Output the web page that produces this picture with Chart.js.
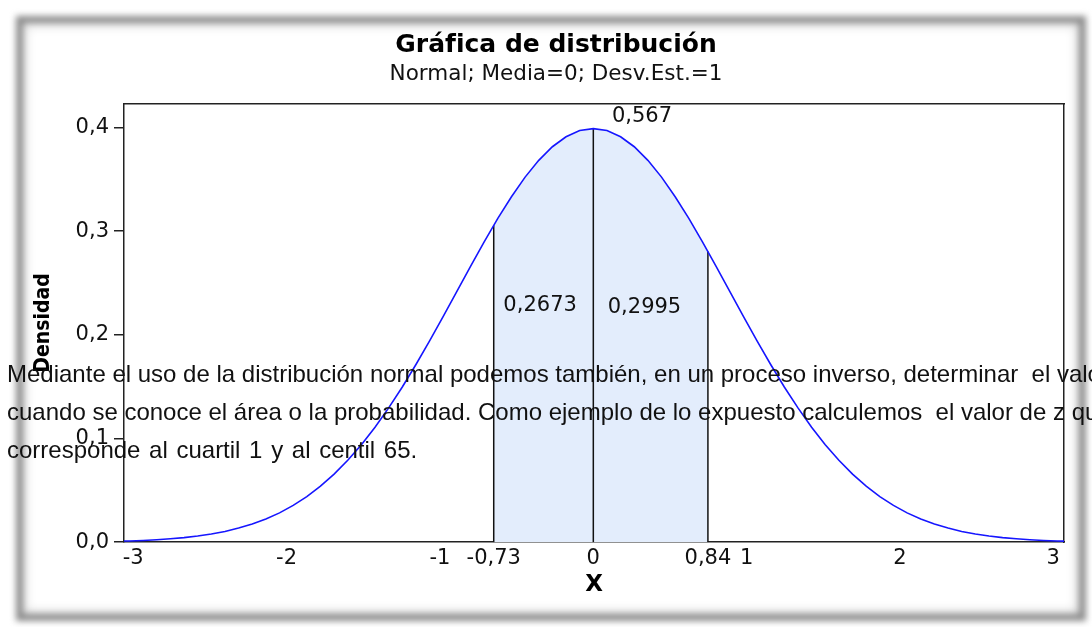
<!DOCTYPE html>
<html lang="es">
<head>
<meta charset="utf-8">
<title>Gráfica de distribución</title>
<script src="https://cdn.jsdelivr.net/npm/chart.js@4.4.1/dist/chart.umd.min.js"></script>
<style>
    html, body { margin: 0; padding: 0; background: #fff; }
    body { position: relative; width: 1092px; height: 627px; overflow: hidden; }
    .marco {
        position: absolute; left: 16px; top: 16px; width: 1056px; height: 591px;
        border: 7px solid #8d8d8d; filter: blur(3px);
        box-shadow: inset 0 0 8px 2px rgba(0, 0, 0, 0.2);
    }
    #grafica { position: absolute; left: 0; top: 0; }
    .texto {
        position: absolute; left: 7px; z-index: 2;
        font-family: 'Liberation Sans', Arial, sans-serif; font-size: 24px; line-height: 24px;
        color: #111; white-space: pre;
    }
</style>
</head>
<body>
<div class="marco"></div>
<canvas id="grafica" width="1092" height="627"></canvas>
<div class="texto" style="top:362px">Mediante el uso de la distribución normal podemos también, en un proceso inverso, determinar  el valor de z</div>
<div class="texto" style="top:400px">cuando se conoce el área o la probabilidad. Como ejemplo de lo expuesto calculemos  el valor de z que</div>
<div class="texto" style="top:438px; word-spacing:2px">corresponde al cuartil 1 y al centil 65.</div>

<script>
// Curva normal estándar (valores de z y densidad)
const zValues = [-3.44, -3.4, -3.3, -3.2, -3.1, -3.0, -2.9, -2.8, -2.7, -2.6, -2.5, -2.4, -2.3, -2.2, -2.1, -2.0,
    -1.9, -1.8, -1.7, -1.6, -1.5, -1.4, -1.3, -1.2, -1.1, -1.0, -0.9, -0.8, -0.7, -0.6, -0.5, -0.4, -0.3, -0.2, -0.1,
    0.0, 0.1, 0.2, 0.3, 0.4, 0.5, 0.6, 0.7, 0.8, 0.9, 1.0, 1.1, 1.2, 1.3, 1.4, 1.5, 1.6, 1.7, 1.8, 1.9,
    2.0, 2.1, 2.2, 2.3, 2.4, 2.5, 2.6, 2.7, 2.8, 2.9, 3.0, 3.1, 3.2, 3.3, 3.4, 3.45];
const density = [0.0011, 0.0012, 0.0017, 0.0024, 0.0033, 0.0044, 0.0060, 0.0079, 0.0104, 0.0136, 0.0175, 0.0224, 0.0283, 0.0355, 0.0440, 0.0540,
    0.0656, 0.0790, 0.0940, 0.1109, 0.1295, 0.1497, 0.1714, 0.1942, 0.2179, 0.2420, 0.2661, 0.2897, 0.3123, 0.3332, 0.3521, 0.3683, 0.3814, 0.3910, 0.3970,
    0.3989, 0.3970, 0.3910, 0.3814, 0.3683, 0.3521, 0.3332, 0.3123, 0.2897, 0.2661, 0.2420, 0.2179, 0.1942, 0.1714, 0.1497, 0.1295, 0.1109, 0.0940, 0.0790, 0.0656,
    0.0540, 0.0440, 0.0355, 0.0283, 0.0224, 0.0175, 0.0136, 0.0104, 0.0079, 0.0060, 0.0044, 0.0033, 0.0024, 0.0017, 0.0012, 0.0010];

// Límites del área sombreada y altura de la curva en cada uno
const cutPoints = [-0.73, 0, 0.84];
const cutHeights = [0.3056, 0.3989, 0.2803];

// Áreas parciales y total
const areaValues = [0.2673, 0.2995];
const areaTotal = 0.567;

// Marcas de los ejes
const xTicks = [-3, -2, -1, 0, 1, 2, 3];
const zTicks = [-0.73, 0.84];
const yTicks = [0, 0.1, 0.2, 0.3, 0.4];

function coma(v) {
    return String(v).replace('.', ',');
}

const curve = zValues.map((z, i) => ({x: z, y: density[i]}));

// Polígono del área entre el primer y el último límite
const lo = cutPoints[0], hi = cutPoints[cutPoints.length - 1];
const shaded = [{x: lo, y: cutHeights[0]}]
    .concat(curve.filter(p => p.x > lo && p.x < hi))
    .concat([{x: hi, y: cutHeights[cutHeights.length - 1]}]);

const cutLines = cutPoints.map((c, i) => ({
    data: [{x: c, y: 0}, {x: c, y: cutHeights[i]}],
    xAxisID: 'z',
    borderColor: '#111',
    borderWidth: 1.5,
    pointRadius: 0
}));

// Etiquetas de las áreas (posición en unidades de los ejes)
const labelSpots = [
    {x: -0.39, y: 0.2284, text: coma(areaValues[0])},
    {x: 0.375, y: 0.2265, text: coma(areaValues[1])},
    {x: 0.357, y: 0.4106, text: coma(areaTotal)}
];

const areaLabels = {
    id: 'areaLabels',
    afterDatasetsDraw(chart) {
        const {ctx, scales} = chart;
        ctx.save();
        ctx.font = "21px 'DejaVu Sans'";
        ctx.fillStyle = '#111';
        ctx.textAlign = 'center';
        ctx.textBaseline = 'middle';
        for (const s of labelSpots) {
            ctx.fillText(s.text, scales.z.getPixelForValue(s.x), scales.y.getPixelForValue(s.y));
        }
        ctx.restore();
    }
};

Chart.defaults.font.family = "'DejaVu Sans', Verdana, sans-serif";
Chart.defaults.color = '#111';

const borderLine = {display: true, color: '#222', width: 1.5};

new Chart(document.getElementById('grafica'), {
    type: 'line',
    data: {
        datasets: [
            {
                data: curve,
                xAxisID: 'z',
                borderColor: 'rgb(22,22,255)',
                borderWidth: 1.6,
                pointRadius: 0,
                tension: 0
            },
            ...cutLines,
            {
                data: shaded,
                xAxisID: 'z',
                borderWidth: 0,
                pointRadius: 0,
                backgroundColor: '#e3edfc',
                fill: 'origin'
            }
        ]
    },
    options: {
        responsive: false,
        animation: false,
        layout: {padding: {left: 20, right: 0, top: 0, bottom: 28}},
        plugins: {
            legend: {display: false},
            tooltip: {enabled: false},
            title: {
                display: true,
                text: 'Gráfica de distribución',
                color: '#000',
                font: {size: 25, weight: 'bold'},
                padding: {top: 30.5, bottom: 0}
            },
            subtitle: {
                display: true,
                text: 'Normal; Media=0; Desv.Est.=1',
                color: '#111',
                font: {size: 21.5},
                padding: {top: 1.4, bottom: 15.9}
            }
        },
        scales: {
            // eje de z: límites del área; etiquetas en espejo para que no se recorten
            z: {
                type: 'linear',
                position: 'bottom',
                weight: 0,
                z: 1,
                min: -3.44,
                max: 3.45,
                afterBuildTicks: axis => { axis.ticks = zTicks.map(v => ({value: v})); },
                afterFit: axis => { axis.height = 0; },
                grid: {display: false, drawTicks: false},
                border: {display: false},
                ticks: {autoSkip: false, maxRotation: 0, mirror: true, padding: -29.2, font: {size: 21}, callback: v => coma(v)}
            },
            x: {
                type: 'linear',
                position: 'bottom',
                weight: 1,
                min: -3.06,
                max: 3.07,
                afterBuildTicks: axis => { axis.ticks = xTicks.map(v => ({value: v})); },
                grid: {display: false, drawTicks: false},
                border: borderLine,
                ticks: {autoSkip: false, maxRotation: 0, padding: 4, font: {size: 21}, callback: v => coma(v)},
                title: {
                    display: true,
                    text: 'X',
                    color: '#000',
                    font: {size: 23, weight: 'bold'},
                    padding: {top: -4, bottom: 0}
                }
            },
            xt: {
                type: 'linear',
                position: 'top',
                afterFit: axis => { axis.height = 0; },
                grid: {display: false, drawTicks: false},
                border: borderLine,
                ticks: {display: false}
            },
            y: {
                type: 'linear',
                position: 'left',
                min: 0,
                max: 0.423,
                afterBuildTicks: axis => { axis.ticks = yTicks.map(v => ({value: v})); },
                afterFit: axis => { axis.width = 104; },
                grid: {drawOnChartArea: false, drawTicks: true, tickLength: 10, color: '#222', lineWidth: 1.5},
                border: borderLine,
                ticks: {padding: 5, font: {size: 21}, callback: v => v.toFixed(1).replace('.', ',')},
                title: {
                    display: true,
                    text: 'Densidad',
                    color: '#000',
                    font: {family: "'DejaVu Sans Condensed', 'DejaVu Sans'", size: 21, weight: 'bold'},
                    padding: {top: 11, bottom: 0}
                }
            },
            yr: {
                type: 'linear',
                position: 'right',
                afterFit: axis => { axis.width = 28; },
                grid: {display: false, drawTicks: false},
                border: borderLine,
                ticks: {display: false}
            }
        }
    },
    plugins: [areaLabels]
});
</script>
</body>
</html>
